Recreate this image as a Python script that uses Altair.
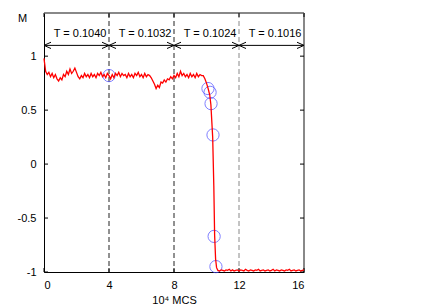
import altair as alt
import pandas as pd

# ---- data ----
# magnetisation before the transition, sampled every 0.1 (x 0.0 .. 9.8)
m_before = [
    0.98, 0.86, 0.83, 0.85, 0.81, 0.84, 0.80, 0.83, 0.79, 0.77,
    0.80, 0.78, 0.83, 0.81, 0.86, 0.83, 0.88, 0.84, 0.86, 0.89,
    0.85, 0.81, 0.79, 0.82, 0.80, 0.84, 0.81, 0.83, 0.80, 0.84,
    0.81, 0.83, 0.80, 0.84, 0.82, 0.85, 0.81, 0.83, 0.80, 0.84,
    0.82, 0.79, 0.83, 0.80, 0.84, 0.82, 0.85, 0.81, 0.84, 0.82,
    0.83, 0.80, 0.84, 0.81, 0.83, 0.80, 0.84, 0.82, 0.85, 0.81,
    0.83, 0.80, 0.84, 0.81, 0.83, 0.82, 0.80, 0.77, 0.74, 0.70,
    0.73, 0.71, 0.76, 0.75, 0.78, 0.76, 0.79, 0.78, 0.81, 0.79,
    0.82, 0.80, 0.84, 0.81, 0.86, 0.82, 0.84, 0.81, 0.83, 0.80,
    0.84, 0.81, 0.83, 0.80, 0.84, 0.81, 0.83, 0.82, 0.82,
]
# the transition
t_drop = [9.9, 10.0, 10.1, 10.2, 10.27, 10.38, 10.45, 10.5, 10.56, 10.62, 10.7]
m_drop = [0.79, 0.75, 0.70, 0.64, 0.55, 0.25, -0.20, -0.66, -0.88, -0.96, -0.985]
# after the transition, sampled every 0.1 (x 10.8 .. 16.0)
m_after = [
    -0.99, -0.98, -0.985, -0.99, -0.98, -0.985, -0.975, -0.99, -0.98, -0.99,
    -0.985, -0.98, -0.99, -0.98, -0.985, -0.99, -0.975, -0.985, -0.99, -0.98,
    -0.985, -0.99, -0.98, -0.985, -0.975, -0.99, -0.985, -0.98, -0.99, -0.985,
    -0.98, -0.99, -0.985, -0.975, -0.99, -0.98, -0.985, -0.99, -0.98, -0.985,
    -0.99, -0.98, -0.985, -0.975, -0.99, -0.985, -0.98, -0.99, -0.985, -0.98,
    -0.99, -0.985, -0.98,
]
# sampled snapshots (blue circles)
circ_t = [4.0, 10.09, 10.22, 10.28, 10.4, 10.47, 10.58]
circ_m = [0.82, 0.70, 0.665, 0.56, 0.27, -0.67, -0.95]

# temperature intervals
t_starts = [0, 4, 8, 12]
t_ends = [4, 8, 12, 16]
t_labels = ["T = 0.1040", "T = 0.1032", "T = 0.1024", "T = 0.1016"]
boundaries = [4, 8, 12]
boundary_colors = ["#222222", "#222222", "#888888"]

x_ticks = [0, 4, 8, 12, 16]
y_ticks = [-1, -0.5, 0, 0.5, 1]

# ---- tables ----
t_series = ([round(i * 0.1, 1) for i in range(len(m_before))] + t_drop
            + [round(10.8 + i * 0.1, 1) for i in range(len(m_after))])
line_df = pd.DataFrame({"t": t_series, "m": m_before + m_drop + m_after})
circ_df = pd.DataFrame({"t": circ_t, "m": circ_m})
bnd_df = pd.DataFrame({"t": boundaries, "c": boundary_colors})
lab_df = pd.DataFrame({"t": [s + 0.6 for s in t_starts], "m": [1.21] * 4, "lab": t_labels})
head_r = pd.DataFrame({"t": t_ends, "m": [1.1] * 4})
head_l = pd.DataFrame({"t": t_starts, "m": [1.1] * 4})
arrow_df = pd.DataFrame({"t": [t_starts[0]], "t2": [t_ends[-1]], "m": [1.1]})
xt_df = pd.DataFrame({"t": x_ticks})
yt_df = pd.DataFrame({"m": y_ticks})

W, H = 260, 259
FONT = "Liberation Sans"
xs = alt.Scale(domain=[0, 16], nice=False, zero=False)
ys = alt.Scale(domain=[-1, 1.4], nice=False, zero=False)

x_axis = alt.Axis(values=x_ticks, ticks=False, grid=False, domainColor="black",
                  domainWidth=1, labelExpr="toString(datum.value)", labelFont=FONT,
                  labelFontSize=11, labelColor="black", labelPadding=7,
                  title="10⁴ MCS", titleFont=FONT, titleFontSize=11,
                  titleFontWeight="normal", titleColor="black", titlePadding=4)
y_axis = alt.Axis(values=y_ticks, ticks=False, grid=False, domainColor="black",
                  domainWidth=1, labelExpr="toString(datum.value)", labelFont=FONT,
                  labelFontSize=11, labelColor="black", labelPadding=8,
                  title="M", titleFont=FONT, titleFontSize=11, titleFontWeight="normal",
                  titleColor="black", titleAngle=0, titleAlign="center",
                  titleBaseline="middle", titleX=-22, titleY=5)


def X(f="t"):
    return alt.X(f + ":Q", scale=xs, axis=x_axis)


def Y(f="m"):
    return alt.Y(f + ":Q", scale=ys, axis=y_axis)


dashes = alt.Chart(bnd_df).mark_rule(strokeDash=[5, 3], strokeWidth=1).encode(
    x=X(), y=alt.value(0), y2=alt.value(H),
    color=alt.Color("c:N", scale=None),
)

circles = alt.Chart(circ_df).mark_point(shape="circle", size=150, filled=False,
                                        color="#4a4aff", strokeWidth=1).encode(
    x=X(), y=Y())

line = alt.Chart(line_df).mark_line(color="#ff0000", strokeWidth=1.3).encode(
    x=X(), y=Y(), order="t:Q")

arrow_line = alt.Chart(arrow_df).mark_rule(color="black", strokeWidth=1).encode(
    x=X(), x2="t2:Q", y=Y())
heads_r = alt.Chart(head_r).mark_point(shape="M -1 -0.45 L 0 0 L -1 0.45", size=196,
                                       filled=False, color="black", strokeWidth=1,
                                       opacity=1).encode(x=X(), y=Y())
heads_l = alt.Chart(head_l).mark_point(shape="M 1 -0.45 L 0 0 L 1 0.45", size=196,
                                       filled=False, color="black", strokeWidth=1,
                                       opacity=1).encode(x=X(), y=Y())

labels = alt.Chart(lab_df).mark_text(align="left", baseline="middle", font=FONT,
                                     fontSize=11, color="black").encode(
    x=X(), y=Y(), text="lab:N")

# frame: top and right borders in grey
top_border = alt.Chart(xt_df).mark_rule(color="#888888", strokeWidth=1.5).encode(
    x=alt.value(0), x2=alt.value(W), y=alt.value(0))
right_border = alt.Chart(xt_df).mark_rule(color="#888888", strokeWidth=1.5).encode(
    x=alt.value(W), y=alt.value(0), y2=alt.value(H))

# inward tick marks (gnuplot style), mirrored
yt_left = alt.Chart(yt_df).mark_rule(color="black").encode(
    y=Y(), x=alt.value(0), x2=alt.value(4))
yt_right = alt.Chart(yt_df).mark_rule(color="black").encode(
    y=Y(), x=alt.value(W - 4), x2=alt.value(W))
xt_bottom = alt.Chart(xt_df).mark_rule(color="black").encode(
    x=X(), y=alt.value(H - 4), y2=alt.value(H))
xt_top = alt.Chart(xt_df).mark_rule(color="black").encode(
    x=X(), y=alt.value(0), y2=alt.value(4))

chart = alt.layer(
    dashes, top_border, right_border, yt_left, yt_right, xt_bottom, xt_top,
    circles, line, arrow_line, heads_r, heads_l, labels,
).properties(
    width=W, height=H,
    autosize=alt.AutoSizeParams(type="none"),
    padding={"left": 36, "top": 5, "right": 120, "bottom": 33},
).configure_view(stroke=None).configure(background="white")

chart.save("out.html", embed_options={"renderer": "svg", "actions": False})
